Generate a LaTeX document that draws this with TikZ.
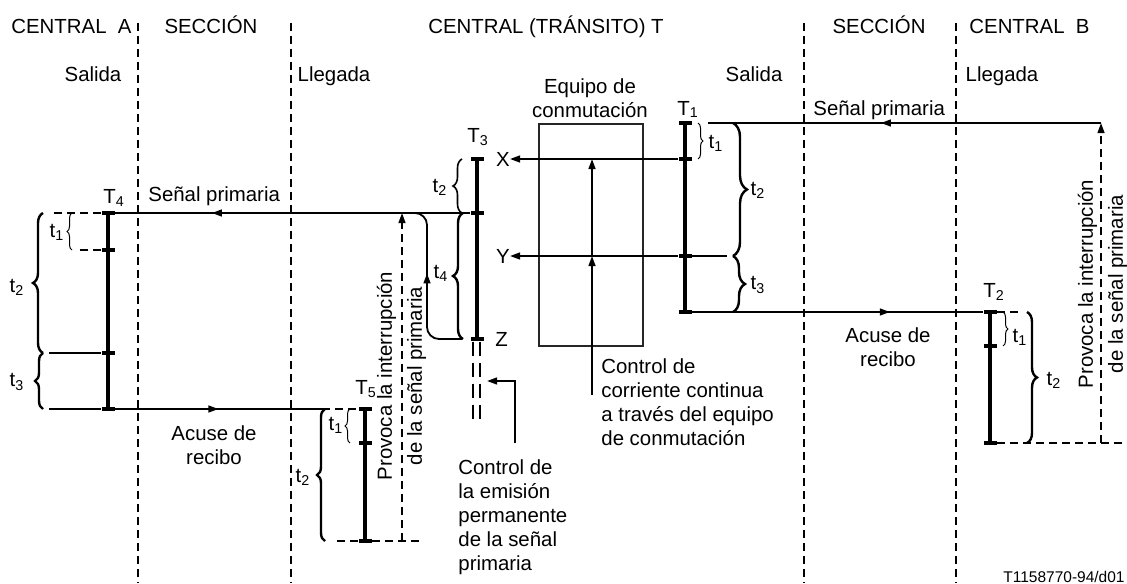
\documentclass[tikz,border=0pt]{standalone}
\usepackage{fontspec}
\setmainfont{Liberation Sans}
\usetikzlibrary{arrows.meta, positioning, calc, decorations.pathreplacing, decorations.markings}

\begin{document}
\begin{tikzpicture}[
        x=0.5pt, y=-0.5pt,
        every node/.style={font=\fontsize{10.2}{12}\selectfont, inner sep=0pt},
        tic/.style={fill, minimum width=6.5pt, minimum height=2.2pt},
        bar/.style={line width=2.2pt},
        sig/.style={line width=0.9pt},
        guide/.style={line width=0.9pt, dash pattern=on 4pt off 2.5pt},
        arr/.style={-{Triangle[length=5pt, width=3.4pt]}},
        midtip/.style={postaction={decorate}, decoration={markings, mark=at position #1 with {\arrow{Triangle[length=5pt, width=3.4pt]}}}},
        brc/.style={decorate, decoration={brace, amplitude=#1}, line width=1.2pt},
        sbrc/.style={decorate, decoration={brace, amplitude=2.5pt}, line width=0.5pt},
        rot/.style={rotate=90, align=center, font=\fontsize{10.2}{15}\selectfont}
    ]
        \useasboundingbox (0,0) rectangle (1127,583);

        % Section borders
        \foreach \x in {138, 291, 804, 956}
            \draw[guide] (\x,23) -- (\x,583);

        % Headings
        \node[anchor=base west] (hA) at (11,34) {CENTRAL\ \ A};
        \node[anchor=base] (hSecA) at (211,34) {SECCIÓN};
        \node[anchor=base] (hT) at (546,34) {CENTRAL (TRÁNSITO) T};
        \node[anchor=base] (hSecB) at (879,34) {SECCIÓN};
        \node[anchor=base west] (hB) at (969,34) {CENTRAL\ \ B};
        \node[anchor=base] (outA) at (93,82) {Salida};
        \node[anchor=base] (inT) at (334,82) {Llegada};
        \node[anchor=base] (outT) at (754,82) {Salida};
        \node[anchor=base] (inB) at (1002,82) {Llegada};

        % Switching equipment
        \node[draw, line width=1.3pt, black!85, minimum width=52pt, minimum height=111pt] (sw) at (591,235) {};
        \node[align=center, anchor=north] (swTxt) at (590,78) {Equipo de\\conmutación};

        % Timing bars and their ticks
        \foreach \n/\x/\y in {T4a/108/213, T4b/108/250, T4c/108/353, T4d/108/409,
                              T5a/365/409, T5b/365/443, T5c/365/541,
                              T3a/477/159, T3b/477/213, T3c/477/339,
                              T1a/685/123, T1b/685/159, T1c/685/256, T1d/685/312,
                              T2a/990/312, T2b/990/346, T2c/990/443}
            \node[tic] (\n) at (\x,\y) {};
        \draw[bar] (T4a.center) -- (T4d.center);
        \draw[bar] (T5a.center) -- (T5c.center);
        \draw[bar] (T3a.center) -- (T3c.center);
        \draw[bar] (T1a.center) -- (T1d.center);
        \draw[bar] (T2a.center) -- (T2c.center);

        \node[anchor=base west] (lblT4) at (103,203) {T\textsubscript{4}};
        \node[anchor=base west] (lblT5) at (355,394) {T\textsubscript{5}};
        \node[anchor=base west] (lblT3) at (467,142) {T\textsubscript{3}};
        \node[anchor=base west] (lblT1) at (677,115) {T\textsubscript{1}};
        \node[anchor=base west] (lblT2) at (983,297) {T\textsubscript{2}};

        % Wires X, Y, Z
        \node[anchor=east] (X) at (510,159) {X};
        \node[anchor=east] (Y) at (510,256) {Y};
        \node[anchor=west] (Z) at (495,339) {Z};
        \draw[sig, arr] (T1b.west) -- (X.east);
        \draw[sig, arr] (T1c.west) -- (Y.east);

        % DC control through the switching equipment
        \coordinate (dc) at (592,395);
        \draw[sig, arr] (dc) -- (dc |- T1c);
        \draw[sig, arr] (dc |- T1c) -- (dc |- T1b);
        \node[align=left, anchor=north west] (dcTxt) at (601,358) {Control de\\corriente continua\\a través del equipo\\de conmutación};

        % Permanent primary signal control
        \draw[sig, dash pattern=on 7pt off 3.5pt] ($(T3c.south)+(-4,0)$) -- ++(0,82);
        \draw[sig, dash pattern=on 7pt off 3.5pt] ($(T3c.south)+(3,0)$) -- ++(0,82);
        \coordinate (feed) at (487,381);
        \coordinate (feedIn) at (515,443);
        \draw[sig, arr] (feedIn) |- (feed);
        \node[align=left, anchor=north west] (peTxt) at (458,459) {Control de\\la emisión\\permanente\\de la señal\\primaria};

        % Signals between A and T
        \draw[sig, midtip=0.727] (T3b.west) -- (T4a.east);
        \node[anchor=base west] (spA) at (148,201) {Señal primaria};
        \coordinate (rtn) at (427,213);
        \draw[sig, rounded corners=6pt, midtip=0.58] ($(T3c.west)+(-8,0)$) -| (rtn) -- ++(-14,0);
        \coordinate (ackEnd) at (322,409);
        \draw[sig, midtip=0.5] (T4d.east) -- (ackEnd);
        \draw[guide] (ackEnd) -- (T5a.west);
        \node[align=center, anchor=north] (ackA) at (214,425) {Acuse de\\recibo};
        \draw[guide] (T4a.west) -- ++(-50,0);
        \draw[guide] (T4b.west) -- ++(-25,0);
        \draw[sig] (T4c.west) -- ++(-52,0);
        \draw[sig] (T4d.west) -- ++(-52,0);
        \draw[guide] (T5c.west) -- ++(-25,0);
        \draw[guide] (T5c.east) -- ++(50,0);
        \coordinate (pvA) at (402,541);
        \draw[guide, arr] (pvA) -- (pvA |- T4a);
        \node[rot] (pvAtxt) at (401.5,376) {Provoca la interrupción\\de la señal primaria};

        % Signals between T and B
        \coordinate (pvB) at (1101,443);
        \draw[sig, midtip=0.56] (pvB |- T1a) -- ([xshift=8pt]T1a.east);
        \draw[guide, arr] (pvB) -- (pvB |- T1a);
        \node[anchor=base west] (spB) at (813,115) {Señal primaria};
        \draw[sig] (T1c.east) -- ++(35,0);
        \draw[sig, midtip=0.68] (T1d.east) -- (T2a.west);
        \node[align=center, anchor=north] (ackB) at (888,327) {Acuse de\\recibo};
        \draw[guide] (T2a.east) -- ++(22,0);
        \draw[guide] (T2c.east) -- ++(130,0);
        \node[rot] (pvBtxt) at (1102.5,284) {Provoca la interrupción\\de la señal primaria};

        % Time intervals
        \draw[sbrc] (72,250) -- (72,213);
        \draw[brc=5pt] (43,353) -- (43,213);
        \draw[brc=4pt] (43,409) -- (43,353);
        \node (t1A) at (57,232) {t\textsubscript{1}};
        \node (t2A) at (17,287) {t\textsubscript{2}};
        \node (t3A) at (17,382) {t\textsubscript{3}};

        \draw[sbrc] (350,443) -- (350,409);
        \draw[brc=4pt] (325,541) -- (325,409);
        \node (t1E) at (336,425) {t\textsubscript{1}};
        \node (t2E) at (303,477) {t\textsubscript{2}};

        \draw[brc=4.5pt, line width=0.8pt] (462,213) -- (462,159);
        \draw[brc=5pt] (463,339) -- (463,213);
        \node (t2T) at (440,187) {t\textsubscript{2}};
        \node (t4T) at (441,273) {t\textsubscript{4}};

        \draw[sbrc] (698,123) -- (698,159);
        \draw[brc=7pt] (733,123) -- (733,256);
        \draw[brc=6pt] (733,256) -- (733,312);
        \node (t1S) at (716,143) {t\textsubscript{1}};
        \node (t2S) at (758,190) {t\textsubscript{2}};
        \node (t3S) at (758,285) {t\textsubscript{3}};

        \draw[sbrc] (1003,312) -- (1003,346);
        \draw[brc=5pt] (1027,312) -- (1027,443);
        \node (t1B) at (1020,337) {t\textsubscript{1}};
        \node (t2B) at (1054,380) {t\textsubscript{2}};

        % Figure code
        \node[anchor=base east, font=\fontsize{7.75}{9}\selectfont] (code) at (1125,582) {T1158770-94/d01};
    \end{tikzpicture}
\end{document}
